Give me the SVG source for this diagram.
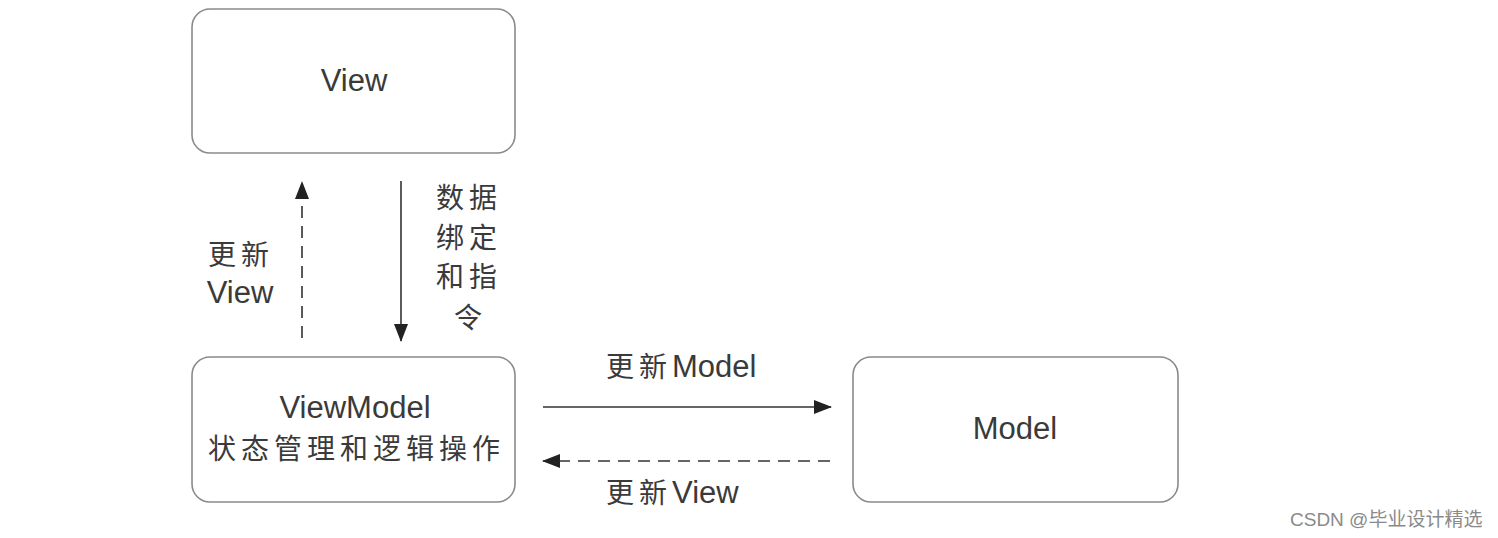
<svg xmlns="http://www.w3.org/2000/svg" width="1498" height="538" viewBox="0 0 1498 538">
<style>
.box{fill:#fff;stroke:#8a8a8a;stroke-width:1.6}
.t{font-family:"Liberation Sans","Noto Sans CJK SC",sans-serif;font-size:31px;fill:#3a3a3a;text-anchor:middle}
.c{font-family:"Liberation Sans","Noto Sans CJK SC",sans-serif;font-size:28px;fill:#3a3a3a;letter-spacing:5px}
.ln{stroke:#333;stroke-width:1.6;fill:none}
.dash{stroke-dasharray:12 8}
.wm{font-family:"Liberation Sans","Noto Sans CJK SC",sans-serif;font-size:19px;fill:#8a8a8a}
</style>
<defs>
<marker id="ah" viewBox="0 0 18 14" refX="17" refY="7" markerWidth="18" markerHeight="14" markerUnits="userSpaceOnUse" orient="auto">
<path d="M0,0 L18,7 L0,14 Z" fill="#222"/>
</marker>
</defs>
<rect width="1498" height="538" fill="#fff"/>
<g id="view">
<rect class="box" x="192" y="9" width="323" height="144" rx="18"/>
<text class="t" x="354" y="91">View</text>
</g>
<g id="viewmodel">
<rect class="box" x="192" y="357" width="323" height="145" rx="18"/>
<text class="t" x="355" y="418">ViewModel</text>
<text class="c" x="208" y="459">状态管理和逻辑操作</text>
</g>
<g id="model">
<rect class="box" x="853" y="357" width="325" height="145" rx="18"/>
<text class="t" x="1015" y="439">Model</text>
</g>
<g id="connectors">
<line class="ln dash" x1="302" y1="338" x2="302" y2="182" marker-end="url(#ah)"/>
<line class="ln" x1="401" y1="181" x2="401" y2="341" marker-end="url(#ah)"/>
<line class="ln" x1="543" y1="407" x2="831" y2="407" marker-end="url(#ah)"/>
<line class="ln dash" x1="830" y1="461" x2="543" y2="461" marker-end="url(#ah)"/>
</g>
<g id="labels">
<text class="c" x="208" y="265">更新</text>
<text class="t" x="240" y="303">View</text>
<text class="c" x="436" y="208">数据</text>
<text class="c" x="436" y="248">绑定</text>
<text class="c" x="436" y="287">和指</text>
<text class="c" x="454" y="328">令</text>
<text class="c" x="606" y="377">更新<tspan letter-spacing="0" font-size="31">Model</tspan></text>
<text class="c" x="606" y="503">更新<tspan letter-spacing="0" font-size="31">View</tspan></text>
</g>
<text class="wm" x="1290" y="526">CSDN @毕业设计精选</text>
</svg>
